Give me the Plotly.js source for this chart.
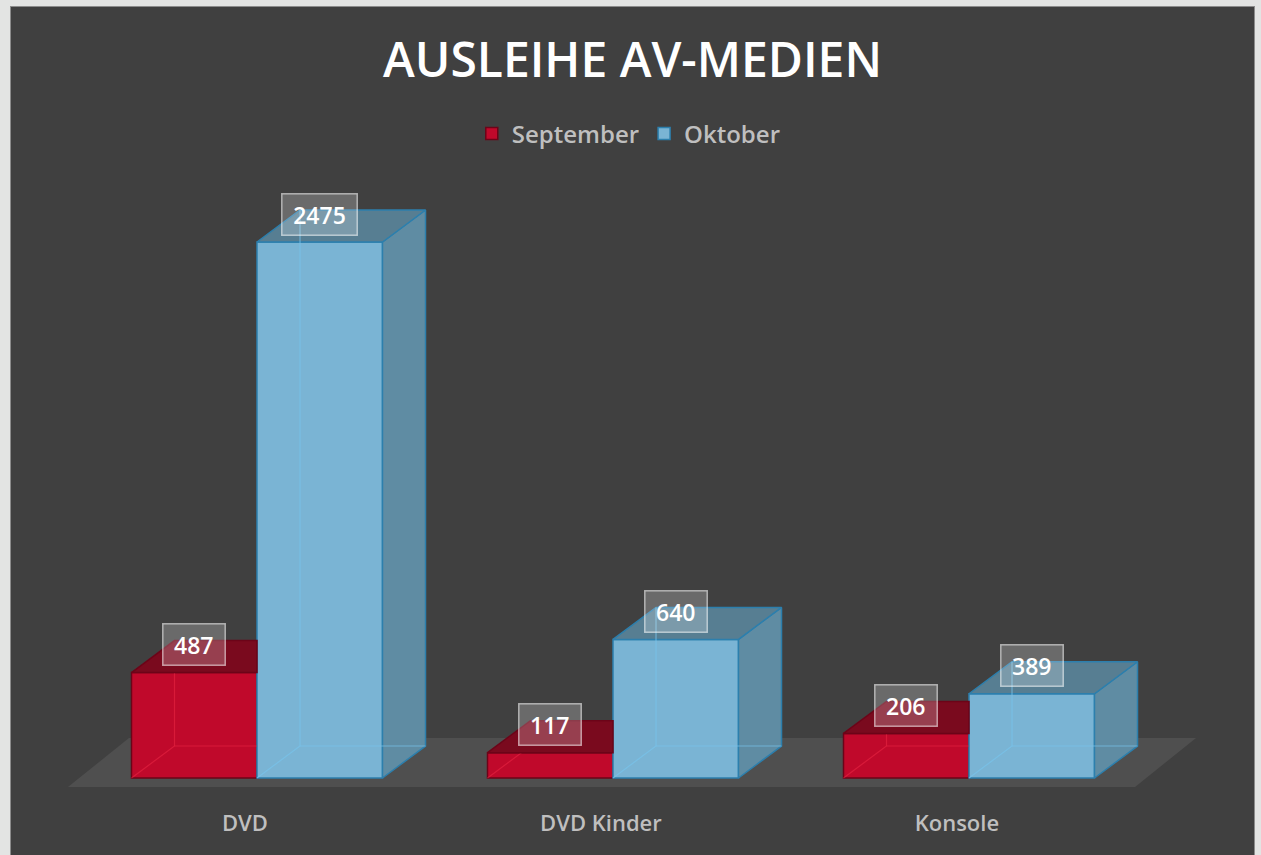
<!DOCTYPE html>
<html><head><meta charset="utf-8">
<script src="https://cdn.plot.ly/plotly-3.0.1.min.js"></script>
<style>
html,body{margin:0;padding:0;background:#e3e4e3;overflow:hidden;width:1261px;height:855px;}
#frame{position:absolute;left:10px;top:6px;width:1245px;height:852px;border:1px solid #8c8c8c;box-sizing:border-box;background:#404040;}
#chart{position:absolute;left:0;top:0;width:1243px;height:850px;}
</style></head><body><div id="frame"><div id="chart"></div></div>
<script>
// ---- data ----
const chartTitle = 'AUSLEIHE AV-MEDIEN';
const categories = ['DVD', 'DVD Kinder', 'Konsole'];
const seriesNames = ['September', 'Oktober'];
const september = [487, 117, 206];
const oktober = [2475, 640, 389];

// ---- geometry / style ----
const W = 1243, H = 850;
const M = {l: 29, r: 24, t: 163, b: 49};
const plotW = W - M.l - M.r, plotH = H - M.t - M.b;
const pxPerCat = 356, pxPerVal = 0.216566;
const origin = {x: 246, y: 771};
const xRange = [(M.l - origin.x) / pxPerCat, (M.l + plotW - origin.x) / pxPerCat];
const yRange = [(origin.y - (M.t + plotH)) / pxPerVal, (origin.y - M.t) / pxPerVal];
const barW = 125.5 / pxPerCat;
const dX = 43 / pxPerCat, dY = 32 / pxPerVal;

const C = {
  redFront: '#c0092b', redTop: '#7a0a1e', redLine: '#6c0418', redInner: 'rgba(235,40,70,0.55)',
  blueFront: '#7ab4d4', blueTop: 'rgba(88,128,149,0.97)', blueSide: 'rgba(96,142,166,0.97)', blueLine: '#2c7fad', blueInner: 'rgba(120,195,235,0.7)',
  floor: '#4f4f4f', text: '#bfbfbf'
};
const FONT = 'Open Sans, Noto Sans, DejaVu Sans, sans-serif';

function poly(pts, fill, line, w) {
  const p = pts.concat([pts[0]]);
  return {type: 'scatter', mode: 'lines', x: p.map(q => q[0]), y: p.map(q => q[1]),
    fill: 'toself', fillcolor: fill, line: {color: line, width: w === undefined ? 1.5 : w},
    hoverinfo: 'skip', showlegend: false};
}
function lines(segs, color) {
  const x = [], y = [];
  segs.forEach(s => { s.forEach(q => { x.push(q[0]); y.push(q[1]); }); x.push(null); y.push(null); });
  return {type: 'scatter', mode: 'lines', x, y, line: {color, width: 1.2}, hoverinfo: 'skip', showlegend: false, connectgaps: false};
}

const idx = categories.map((c, i) => i);
const xSep = idx.map(i => i - barW / 2);
const xOkt = idx.map(i => i + barW / 2);

const traces = [
  {type: 'bar', name: seriesNames[0], x: xSep, y: september, width: barW,
   marker: {color: C.redFront, line: {color: C.redLine, width: 1.5}}, hoverinfo: 'skip'},
  {type: 'bar', name: seriesNames[1], x: xOkt, y: oktober, width: barW,
   marker: {color: C.blueFront, line: {color: C.blueLine, width: 1.5}}, hoverinfo: 'skip'}
];

// September: inner (hidden) edges and top faces, clipped where October bar stands in front
idx.forEach(i => {
  const xl = xSep[i] - barW / 2, xr = xSep[i] + barW / 2, v = september[i];
  const hidden = oktober[i] >= v;
  const xe = hidden ? xr : xr + dX;
  traces.push(lines([[[xl, 0], [xl + dX, dY], [xl + dX, v + dY]], [[xl + dX, dY], [xe, dY]]], C.redInner));
  const top = hidden ? [[xl, v], [xr, v], [xr, v + dY], [xl + dX, v + dY]]
                     : [[xl, v], [xr, v], [xr + dX, v + dY], [xl + dX, v + dY]];
  traces.push(poly(top, C.redTop, C.redLine));
  if (!hidden) traces.push(poly([[xr, 0], [xr + dX, dY], [xr + dX, v + dY], [xr, v]], C.redTop, C.redLine));
});
// October: side, top faces and inner edges
idx.forEach(i => {
  const xl = xOkt[i] - barW / 2, xr = xOkt[i] + barW / 2, v = oktober[i];
  traces.push(poly([[xr, 0], [xr + dX, dY], [xr + dX, v + dY], [xr, v]], C.blueSide, C.blueLine));
  traces.push(poly([[xl, v], [xr, v], [xr + dX, v + dY], [xl + dX, v + dY]], C.blueTop, C.blueLine));
  traces.push(lines([[[xl, 0], [xl + dX, dY], [xl + dX, v + dY]], [[xl + dX, dY], [xr + dX, dY]]], C.blueInner));
});

// floor (decoration, below traces)
const fFront = {l: -189 / pxPerCat, r: 878 / pxPerCat, y: -9 / pxPerVal};
const fDepthX = 61 / pxPerCat, fDepthY = 49 / pxPerVal;
const floorPath = `M${fFront.l},${fFront.y} L${fFront.r},${fFront.y} L${fFront.r + fDepthX},${fFront.y + fDepthY} L${fFront.l + fDepthX},${fFront.y + fDepthY} Z`;

// value labels
const annotations = [];
[[xSep, september], [xOkt, oktober]].forEach(([xs, vals]) => {
  vals.forEach((v, i) => annotations.push({
    x: xs[i], y: v, xref: 'x', yref: 'y', text: String(v), showarrow: false,
    yshift: 28, yanchor: 'middle', xanchor: 'center',
    font: {family: FONT, size: 23, color: '#ffffff', weight: 600},
    bgcolor: 'rgba(255,255,255,0.22)', bordercolor: 'rgba(255,255,255,0.55)', borderwidth: 1.5, borderpad: 4,
    width: String(v).length * 13.5 + 12
  }));
});

const layout = {
  width: W, height: H,
  margin: M,
  paper_bgcolor: '#404040', plot_bgcolor: 'rgba(0,0,0,0)',
  barmode: 'overlay',
  title: {text: chartTitle, font: {family: FONT, size: 48, color: '#ffffff', weight: 600},
          x: 0.5, xref: 'container', xanchor: 'center', y: 1 - 53 / H, yref: 'container', yanchor: 'middle'},
  showlegend: true,
  legend: {orientation: 'h', x: 0.497, xanchor: 'center', xref: 'container', y: 1 - 127 / H, yref: 'container', yanchor: 'middle',
           font: {family: FONT, size: 24, color: C.text, weight: 600}, bgcolor: 'rgba(0,0,0,0)', itemclick: false, itemdoubleclick: false},
  xaxis: {range: xRange, tickvals: idx.map(i => i - 0.034), ticktext: categories, showgrid: false, zeroline: false, showline: false,
          ticks: '', tickfont: {family: FONT, size: 22, color: C.text, weight: 600}, fixedrange: true},
  yaxis: {range: yRange, visible: false, showgrid: false, zeroline: false, fixedrange: true},
  shapes: [{type: 'path', path: floorPath, xref: 'x', yref: 'y', fillcolor: C.floor, line: {width: 0}, layer: 'below'}],
  annotations
};
Plotly.newPlot('chart', traces, layout, {displayModeBar: false, staticPlot: true});
</script></body></html>
